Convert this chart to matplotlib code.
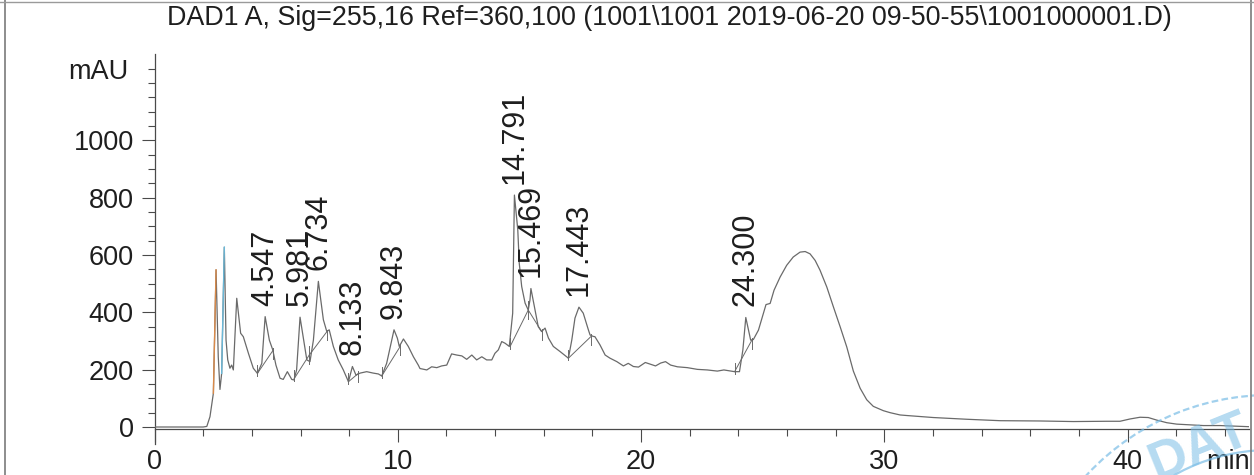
import matplotlib
matplotlib.use("Agg")
import matplotlib.pyplot as plt
from matplotlib.ticker import FixedLocator, MultipleLocator
from matplotlib.patches import Arc
from matplotlib.lines import Line2D
import numpy as np

plt.rcParams['font.family'] = ['Liberation Sans', 'DejaVu Sans']

# ---------------- data ----------------
title = "DAD1 A, Sig=255,16 Ref=360,100 (1001\\1001 2019-06-20 09-50-55\\1001000001.D)"

time_min = [0.0, 1.0, 2.0, 2.15, 2.28, 2.42, 2.53, 2.62, 2.69, 2.76, 2.87, 2.94, 3.01, 3.10, 3.17,
            3.24, 3.38, 3.54, 3.65, 3.86, 4.06, 4.23, 4.41, 4.547, 4.72, 4.86, 4.99, 5.16, 5.29,
            5.46, 5.64, 5.73, 5.84, 5.981, 6.26, 6.39, 6.53, 6.734, 6.94, 7.08, 7.18, 7.35, 7.55,
            7.76, 7.97, 8.133, 8.28, 8.45, 8.72, 8.99, 9.20, 9.34, 9.54, 9.75, 9.843, 9.98, 10.06,
            10.23, 10.43, 10.64, 10.84, 10.91, 11.19, 11.39, 11.60, 11.80, 12.01, 12.21, 12.42,
            12.63, 12.83, 13.04, 13.24, 13.45, 13.65, 13.86, 13.99, 14.13, 14.27, 14.41, 14.58,
            14.72, 14.791, 14.93, 14.99, 15.09, 15.23, 15.36, 15.43, 15.469, 15.64, 15.77, 15.91,
            16.05, 16.19, 16.39, 16.67, 17.01, 17.15, 17.28, 17.443, 17.62, 17.83, 17.90, 18.03,
            18.10, 18.31, 18.52, 18.72, 19.00, 19.27, 19.47, 19.68, 19.89, 20.17, 20.38, 20.59,
            20.80, 21.00, 21.21, 21.49, 21.90, 22.31, 22.72, 23.13, 23.40, 23.61, 23.84, 24.04,
            24.18, 24.300, 24.41, 24.50, 24.61, 24.82, 25.02, 25.13, 25.30, 25.46, 25.71, 25.98,
            26.25, 26.53, 26.74, 26.94, 27.15, 27.35, 27.63, 27.90, 28.18, 28.45, 28.72, 29.00,
            29.27, 29.54, 29.95, 30.23, 30.64, 30.92, 32.01, 33.38, 34.75, 36.39, 37.76, 39.13,
            39.68, 40.09, 40.50, 40.84, 41.19, 41.60, 42.01, 42.42, 43.11, 43.79, 45.0]

signal_mau = [0, 0, 0, 2, 36, 118, 548, 245, 131, 187, 627, 303, 234, 205, 216,
              199, 449, 327, 315, 257, 205, 187, 222, 385, 303, 269, 216, 170, 166,
              193, 166, 164, 199, 383, 234, 228, 303, 508, 374, 333, 339, 281, 234,
              199, 158, 211, 181, 188, 193, 188, 185, 178, 222, 303, 339, 310, 281,
              307, 281, 245, 216, 204, 199, 210, 207, 213, 216, 255, 251,
              248, 236, 251, 234, 245, 234, 234, 257, 269, 298, 292, 281,
              397, 809, 687, 571, 490, 432, 408, 443, 483, 408, 350, 333,
              345, 310, 281, 263, 240, 304, 380, 418, 397, 339, 321, 316,
              315, 286, 251, 240, 228, 213, 222, 211, 209, 225, 219, 213,
              223, 228, 216, 210, 207, 201, 199, 195, 199, 196, 193, 193,
              269, 382, 338, 303, 305, 338, 396, 427, 431, 477, 523, 564,
              593, 610, 612, 604, 581, 547, 488, 419, 349, 279, 195, 135,
              95, 72, 57, 50, 42, 40, 33, 27, 22, 21, 19, 20,
              20, 28, 34, 33, 24, 15, 10, 8, 5, 5, 1]

# labelled peaks: retention time, apex height
peak_rt = [4.547, 5.981, 6.734, 8.133, 9.843, 14.791, 15.469, 17.443, 24.300]
peak_label = ["4.547", "5.981", "6.734", "8.133", "9.843", "14.791", "15.469", "17.443", "24.300"]

# integration baselines: (start time, start mAU, end time, end mAU)
base_t0 = [4.23, 5.75, 6.36, 7.97, 9.34, 14.61, 15.36, 17.01, 23.84]
base_y0 = [187, 170, 251, 158, 178, 280, 408, 240, 193]
base_t1 = [4.86, 6.36, 7.08, 8.38, 10.09, 15.36, 15.91, 17.93, 24.55]
base_y1 = [266, 251, 332, 187, 280, 408, 333, 315, 303]

# coloured start markers on the first two peaks
orange_window = (2.40, 2.54)
blue_window = (2.75, 2.88)

y_major = [0, 200, 400, 600, 800, 1000]
x_major = [0, 10, 20, 30, 40]

# ---------------- figure ----------------
W, H = 1254, 475
fig = plt.figure(figsize=(W / 100, H / 100), dpi=100)
ax = fig.add_axes([154.5 / W, 1 - 444.2 / H, 1095 / W, (444.2 - 54.3) / H])

trace_color = '#6a6a6a'
axis_color = '#4a4a4a'
text_color = '#1e1e1e'

t = np.array(time_min)
s = np.array(signal_mau)
ax.plot(t, s, color=trace_color, lw=0.9, zorder=3)

mo = (t >= orange_window[0]) & (t <= orange_window[1])
ax.plot(t[mo], s[mo], color='#d98a4a', lw=1.0, zorder=4)
mb = (t >= blue_window[0]) & (t <= blue_window[1])
ax.plot(t[mb], s[mb], color='#6ab8d8', lw=1.0, zorder=4)

for a, b, c, d in zip(base_t0, base_y0, base_t1, base_y1):
    ax.plot([a, c], [b, d], color=trace_color, lw=0.7, zorder=2)
    ax.plot([a, a], [b - 8, b + 30], color=trace_color, lw=0.7, zorder=2)
    ax.plot([c, c], [d - 30, d + 8], color=trace_color, lw=0.7, zorder=2)

for rt, lab in zip(peak_rt, peak_label):
    apex = float(np.interp(rt, t, s))
    ax.annotate(lab, xy=(rt, apex), xytext=(0, 8), textcoords='offset points',
                rotation=90, ha='center', va='bottom', fontsize=22, color=text_color,
                zorder=5)

ax.set_xlim(0, 45)
ax.set_ylim(-60, 1300)

for sp in ['top', 'right']:
    ax.spines[sp].set_visible(False)
ax.spines['bottom'].set_position(('data', -8))
for sp in ['left', 'bottom']:
    ax.spines[sp].set_color(axis_color)
    ax.spines[sp].set_linewidth(0.9)

ax.xaxis.set_major_locator(FixedLocator(x_major))
ax.xaxis.set_minor_locator(MultipleLocator(2))
ax.yaxis.set_major_locator(FixedLocator(y_major))
ax.yaxis.set_minor_locator(FixedLocator(list(range(0, 1251, 50))))
ax.set_xticklabels([str(v) for v in x_major])
ax.set_yticklabels([str(v) for v in y_major])

ax.tick_params(axis='both', which='major', direction='out', length=9.4, width=0.8,
               color=axis_color, labelsize=19.5, labelcolor=text_color)
ax.tick_params(axis='both', which='minor', direction='out', length=5, width=0.8,
               color=axis_color)
ax.tick_params(axis='y', which='major', pad=5.5)
ax.tick_params(axis='x', which='major', pad=4.5)

ax.annotate('mAU', xy=(0, 1240), xycoords=('axes fraction', 'data'), xytext=(-19, 0),
            textcoords='offset points', ha='right', va='center', fontsize=19.5,
            color=text_color)
ax.annotate('min', xy=(1, -8), xycoords=('axes fraction', 'data'), xytext=(0, -14),
            textcoords='offset points', ha='right', va='top', fontsize=19.5,
            color=text_color)

fig.text(669 / W, 1 - 18 / H, title, ha='center', va='center', fontsize=19.4,
         color=text_color)

# page frame from the scan
frame = '#7a7a7a'
fig.add_artist(Line2D([5 / W, 5 / W], [0, 1], color=frame, lw=1.2))
fig.add_artist(Line2D([1250.5 / W, 1250.5 / W], [0, 1], color=frame, lw=1.2))
fig.add_artist(Line2D([0, 1], [1 - 2 / H, 1 - 2 / H], color='#9a9a9a', lw=1.0))

# lab stamp (partially visible in corner)
stamp = '#79bde6'
cx, cy = 1270 / W, 1 - 645 / H
fig.add_artist(Arc((cx, cy), 500 / W, 500 / H, theta1=78, theta2=140, color=stamp,
                   lw=1.6, alpha=0.7, ls=(0, (3, 1.5)), transform=fig.transFigure))
fig.add_artist(Arc((cx, cy), 390 / W, 390 / H, theta1=78, theta2=125, color=stamp,
                   lw=1.6, alpha=0.7, transform=fig.transFigure))
fig.text(1200 / W, 1 - 447 / H, 'DAT', rotation=22, ha='center', va='center',
         fontsize=38, fontweight='bold', color=stamp, alpha=0.55)

fig.savefig('out.png', dpi=100)
